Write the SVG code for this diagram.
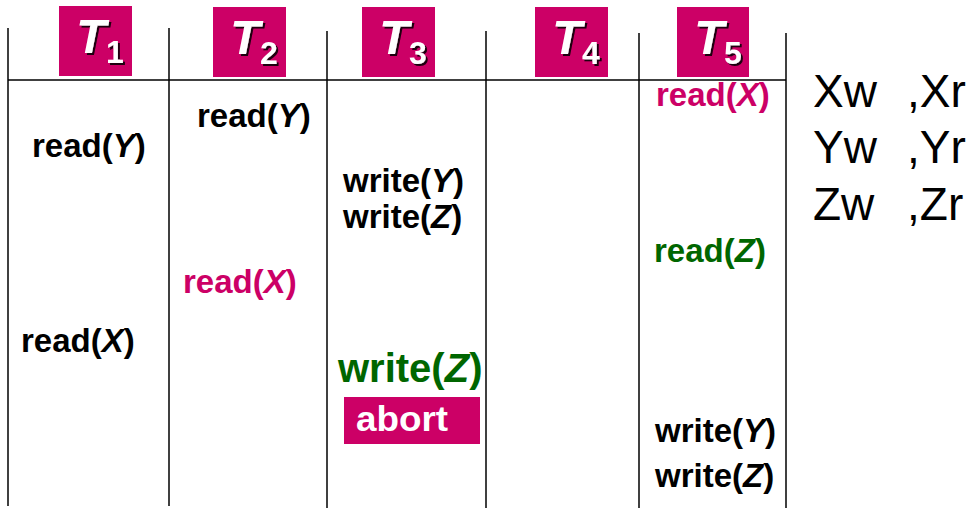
<svg xmlns="http://www.w3.org/2000/svg" width="975" height="524" viewBox="0 0 975 524">
<style>
.ln{stroke:#000;stroke-width:1.5;fill:none}
.hb{fill:#CC0066}
.ht{font-family:"Liberation Sans",Arial,sans-serif;font-weight:bold;fill:#fff}
.op{font-family:"Liberation Sans",Arial,sans-serif;font-weight:bold;font-size:33px;fill:#000}
.pk{fill:#CC0066}
.gr{fill:#006600}
.big{font-size:40px}
.ab{font-size:35px;fill:#fff}
.v{font-style:italic}
.rt{font-family:"Liberation Sans",Arial,sans-serif;font-size:46px;fill:#000}
</style>
<defs>
<filter id="sh" x="-20%" y="-20%" width="150%" height="150%">
<feDropShadow dx="2" dy="2" stdDeviation="0.6" flood-color="#000" flood-opacity="0.85"/>
</filter>
</defs>
<rect width="975" height="524" fill="#fff"/>
<g id="grid">
<line class="ln" x1="8" y1="28" x2="8" y2="506"/>
<line class="ln" x1="169" y1="28" x2="169" y2="506"/>
<line class="ln" x1="327" y1="31" x2="327" y2="508"/>
<line class="ln" x1="486" y1="31" x2="486" y2="508"/>
<line class="ln" x1="639" y1="33" x2="639" y2="508"/>
<line class="ln" x1="786" y1="33" x2="786" y2="508"/>
<line class="ln" x1="8" y1="80" x2="786" y2="80"/>
</g>
<g id="T1">
<rect class="hb" x="59" y="6" width="73" height="70"/>
<g class="ht" filter="url(#sh)"><text x="76" y="53" font-size="49" font-style="italic">T</text><text x="106" y="63" font-size="32">1</text></g>
</g>
<g id="T2">
<rect class="hb" x="213" y="7" width="73" height="70"/>
<g class="ht" filter="url(#sh)"><text x="230" y="54" font-size="49" font-style="italic">T</text><text x="260" y="64" font-size="32">2</text></g>
</g>
<g id="T3">
<rect class="hb" x="362" y="7" width="73" height="70"/>
<g class="ht" filter="url(#sh)"><text x="379" y="54" font-size="49" font-style="italic">T</text><text x="409" y="64" font-size="32">3</text></g>
</g>
<g id="T4">
<rect class="hb" x="535" y="7" width="73" height="70"/>
<g class="ht" filter="url(#sh)"><text x="552" y="54" font-size="49" font-style="italic">T</text><text x="582" y="64" font-size="32">4</text></g>
</g>
<g id="T5">
<rect class="hb" x="677" y="7" width="72" height="70"/>
<g class="ht" filter="url(#sh)"><text x="694" y="54" font-size="49" font-style="italic">T</text><text x="724" y="64" font-size="32">5</text></g>
</g>
<g id="ops">
<text class="op" x="32" y="157">read(<tspan class="v">Y</tspan>)</text>
<text class="op" x="197" y="127">read(<tspan class="v">Y</tspan>)</text>
<text class="op" x="343" y="192">write(<tspan class="v">Y</tspan>)</text>
<text class="op" x="343" y="228">write(<tspan class="v">Z</tspan>)</text>
<text class="op pk" x="183" y="293">read(<tspan class="v">X</tspan>)</text>
<text class="op" x="21" y="352">read(<tspan class="v">X</tspan>)</text>
<text class="op gr big" x="338" y="382">write(<tspan class="v">Z</tspan>)</text>
<g id="abort">
<rect class="hb" x="344" y="397" width="136" height="47"/>
<text class="op ab" x="356" y="431" textLength="92" lengthAdjust="spacingAndGlyphs">abort</text>
</g>
<text class="op pk" x="656" y="106">read(<tspan class="v">X</tspan>)</text>
<text class="op gr" x="654" y="262">read(<tspan class="v">Z</tspan>)</text>
<text class="op" x="655" y="442">write(<tspan class="v">Y</tspan>)</text>
<text class="op" x="655" y="487">write(<tspan class="v">Z</tspan>)</text>
</g>
<g id="legend">
<text class="rt" x="813" y="107">Xw</text><text class="rt" x="907" y="107">,Xr</text>
<text class="rt" x="813" y="163">Yw</text><text class="rt" x="907" y="163">,Yr</text>
<text class="rt" x="813" y="220">Zw</text><text class="rt" x="907" y="220">,Zr</text>
</g>
</svg>
